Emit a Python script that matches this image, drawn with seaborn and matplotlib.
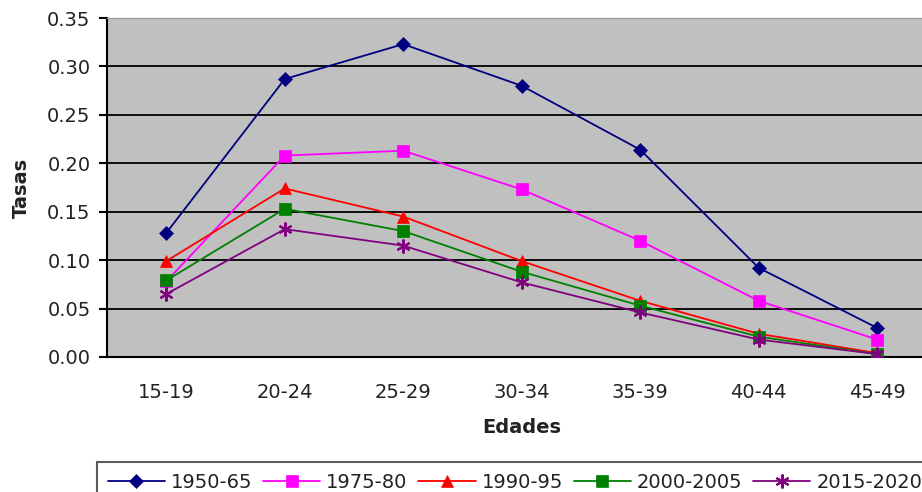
import matplotlib
matplotlib.use("Agg")
import matplotlib.pyplot as plt
import seaborn as sns
import pandas as pd
import numpy as np

edades = ["15-19", "20-24", "25-29", "30-34", "35-39", "40-44", "45-49"]
series_names = ["1950-65", "1975-80", "1990-95", "2000-2005", "2015-2020"]
v_1950_65 = [0.128, 0.287, 0.323, 0.280, 0.214, 0.092, 0.030]
v_1975_80 = [0.078, 0.208, 0.213, 0.173, 0.120, 0.058, 0.018]
v_1990_95 = [0.099, 0.174, 0.145, 0.099, 0.058, 0.024, 0.004]
v_2000_2005 = [0.079, 0.153, 0.130, 0.088, 0.053, 0.021, 0.003]
v_2015_2020 = [0.065, 0.132, 0.115, 0.077, 0.046, 0.018, 0.003]
y_ticks = [0.00, 0.05, 0.10, 0.15, 0.20, 0.25, 0.30, 0.35]

colors = ["#000080", "#FF00FF", "#FF0000", "#008000", "#800080"]
markers = ["D", "s", "^", "s", (6, 2, 0)]
msizes = [7.5, 9, 9, 9, 10]

values = [v_1950_65, v_1975_80, v_1990_95, v_2000_2005, v_2015_2020]
rows = []
for name, vals in zip(series_names, values):
    for i, (e, v) in enumerate(zip(edades, vals)):
        rows.append({"serie": name, "pos": i, "edad": e, "tasa": v})
df = pd.DataFrame(rows)

sns.set_style("white")
plt.rcParams["font.family"] = ["DejaVu Sans"]
FS = 14
txt_color = "#222222"

fig = plt.figure(figsize=(9.22, 4.92), dpi=100)
left = 107 / 922
right_px = 936.5
ax = fig.add_axes([left, 1 - 357 / 492, (right_px - 107) / 922, (357 - 18) / 492])
ax.set_facecolor("#C0C0C0")

for k, name in enumerate(series_names):
    sub = df[df["serie"] == name]
    sns.lineplot(data=sub, x="pos", y="tasa", ax=ax, color=colors[k],
                 marker=markers[k], markersize=msizes[k], markeredgecolor=colors[k],
                 markeredgewidth=1.5 if k == 4 else 0.5, linewidth=1.3,
                 label=name, legend=False, zorder=3 + k)

ax.set_xlim(-0.5, 6.5)
ax.set_ylim(0, 0.35)
ax.set_yticks(y_ticks)
ax.set_yticklabels([f"{t:.2f}" for t in y_ticks], fontsize=FS, color=txt_color)
ax.set_xticks(range(len(edades)))
ax.set_xticklabels(edades, fontsize=FS, color=txt_color)
ax.set_xticks(np.arange(-0.5, 7, 1), minor=True)
ax.tick_params(axis="x", which="major", length=0, pad=19)
ax.tick_params(axis="x", which="minor", length=5.8, width=1.5, color="black", direction="out")
ax.tick_params(axis="y", length=5.8, width=1.5, color="black", direction="out", pad=6, left=True)

for t in y_ticks[1:-1]:
    ax.axhline(t, color="black", linewidth=1.3, zorder=1)

for s in ["left", "bottom"]:
    ax.spines[s].set_color("black")
    ax.spines[s].set_linewidth(1.5)
ax.spines["top"].set_color("#A0A0A0")
ax.spines["top"].set_linewidth(1.0)
ax.spines["right"].set_visible(False)

ax.set_xlabel("Edades", fontsize=FS, fontweight="bold", labelpad=11, color=txt_color)
ax.set_ylabel("Tasas", fontsize=FS, fontweight="bold", labelpad=12, color=txt_color)

h, l = ax.get_legend_handles_labels()
leg = fig.legend(h, l, loc="upper left", bbox_to_anchor=(97 / 922, 1 - 462 / 492),
                 ncol=5, prop={"size": FS}, frameon=True, fancybox=False,
                 handlelength=2.95, columnspacing=0.55, handletextpad=0.3,
                 borderpad=0.55, borderaxespad=0, edgecolor="#333333")
leg.get_frame().set_linewidth(1.5)
for t in leg.get_texts():
    t.set_color(txt_color)

fig.savefig("out.png", dpi=100)
